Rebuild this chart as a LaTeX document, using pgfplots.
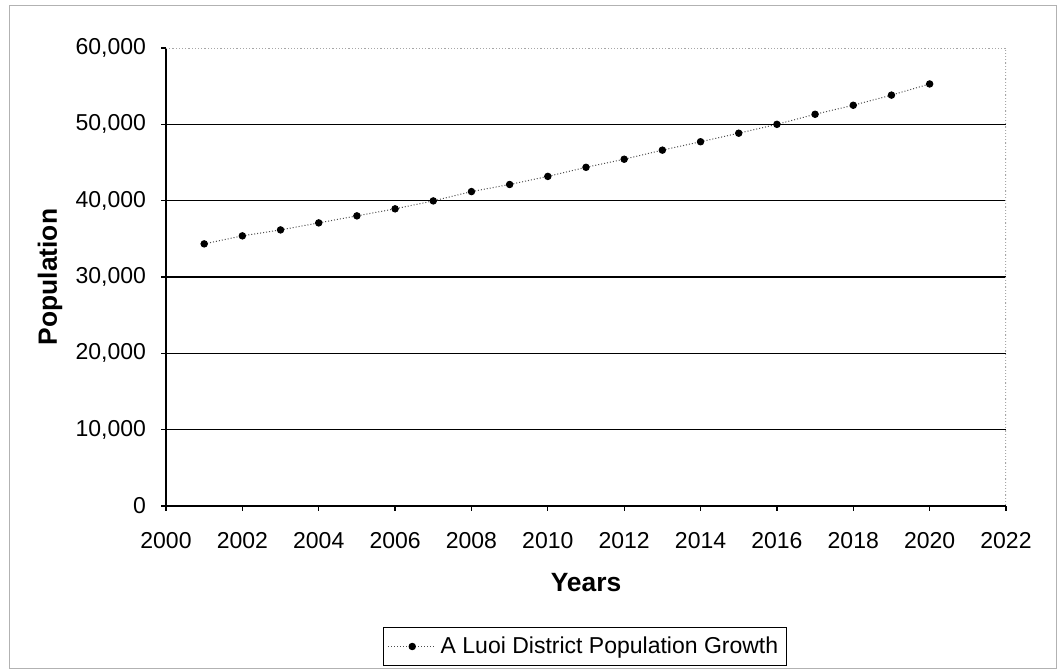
\documentclass[border=0pt]{standalone}
\usepackage{fontspec}
\setmainfont{Liberation Sans}
\usepackage{pgfplots}
\pgfplotsset{compat=1.18}
\begin{document}
\begin{tikzpicture}
\path (0,0) rectangle (528.5pt,335pt);
\draw[gray!60, line width=0.5pt] (4.5pt,0.6pt) rectangle (528pt,332pt);
\begin{axis}[
  at={(83pt,82pt)}, anchor=south west,
  scale only axis, width=420pt, height=229pt,
  xmin=2000, xmax=2022, ymin=0, ymax=60000,
  xtick={2000,2002,...,2022},
  ytick={0,10000,20000,30000,40000,50000},
  extra y ticks={60000},
  extra y tick style={grid=none},
  axis x line*=bottom, axis y line*=left,
  axis line style={-, black, line width=0.8pt},
  tick align=outside, major tick length=2.5pt,
  tick style={black, line width=0.6pt},
  ymajorgrids, major grid style={black, line width=0.7pt},
  scaled y ticks=false,
  /pgf/number format/.cd, 1000 sep={,}, assume math mode=true,
  /pgfplots/.cd,
  xticklabel style={/pgf/number format/1000 sep={}, yshift=-7pt},
  yticklabel style={xshift=-4pt},
  tick label style={font=\fontsize{11.5}{13}\selectfont},
  xlabel={Years}, ylabel={Population},
  label style={font=\fontsize{13.2}{15}\selectfont\bfseries},
  xlabel style={at={(axis description cs:0.5,-0.167)}, anchor=center},
  ylabel style={at={(axis description cs:-0.138,0.5)}, anchor=center, rotate=0},
  legend style={at={(axis description cs:0.4988,-0.3068)}, anchor=center,
    draw=black, line width=0.5pt, font=\fontsize{11.5}{13}\selectfont,
    inner xsep=2pt, inner ysep=2.5pt},
  legend image code/.code={
    \draw[#1, mark repeat=2, mark phase=2] plot coordinates {(0pt,0pt) (12pt,0pt) (24pt,0pt)};},
]
\addplot[gray!60!black, densely dotted, line width=0.5pt,
  mark=*, mark size=1.6pt, mark options={solid, fill=black, draw=black}]
  coordinates {
  (2001,34340) (2002,35390) (2003,36170) (2004,37090) (2005,38010)
  (2006,38930) (2007,39970) (2008,41190) (2009,42120) (2010,43180)
  (2011,44370) (2012,45430) (2013,46620) (2014,47720) (2015,48840)
  (2016,50000) (2017,51320) (2018,52500) (2019,53830) (2020,55290)
  };
\addlegendentry{A Luoi District Population Growth}
\draw[gray!70, densely dotted, line width=0.6pt] (rel axis cs:0,1) -- (rel axis cs:1,1) -- (rel axis cs:1,0);
\end{axis}
\end{tikzpicture}
\end{document}
